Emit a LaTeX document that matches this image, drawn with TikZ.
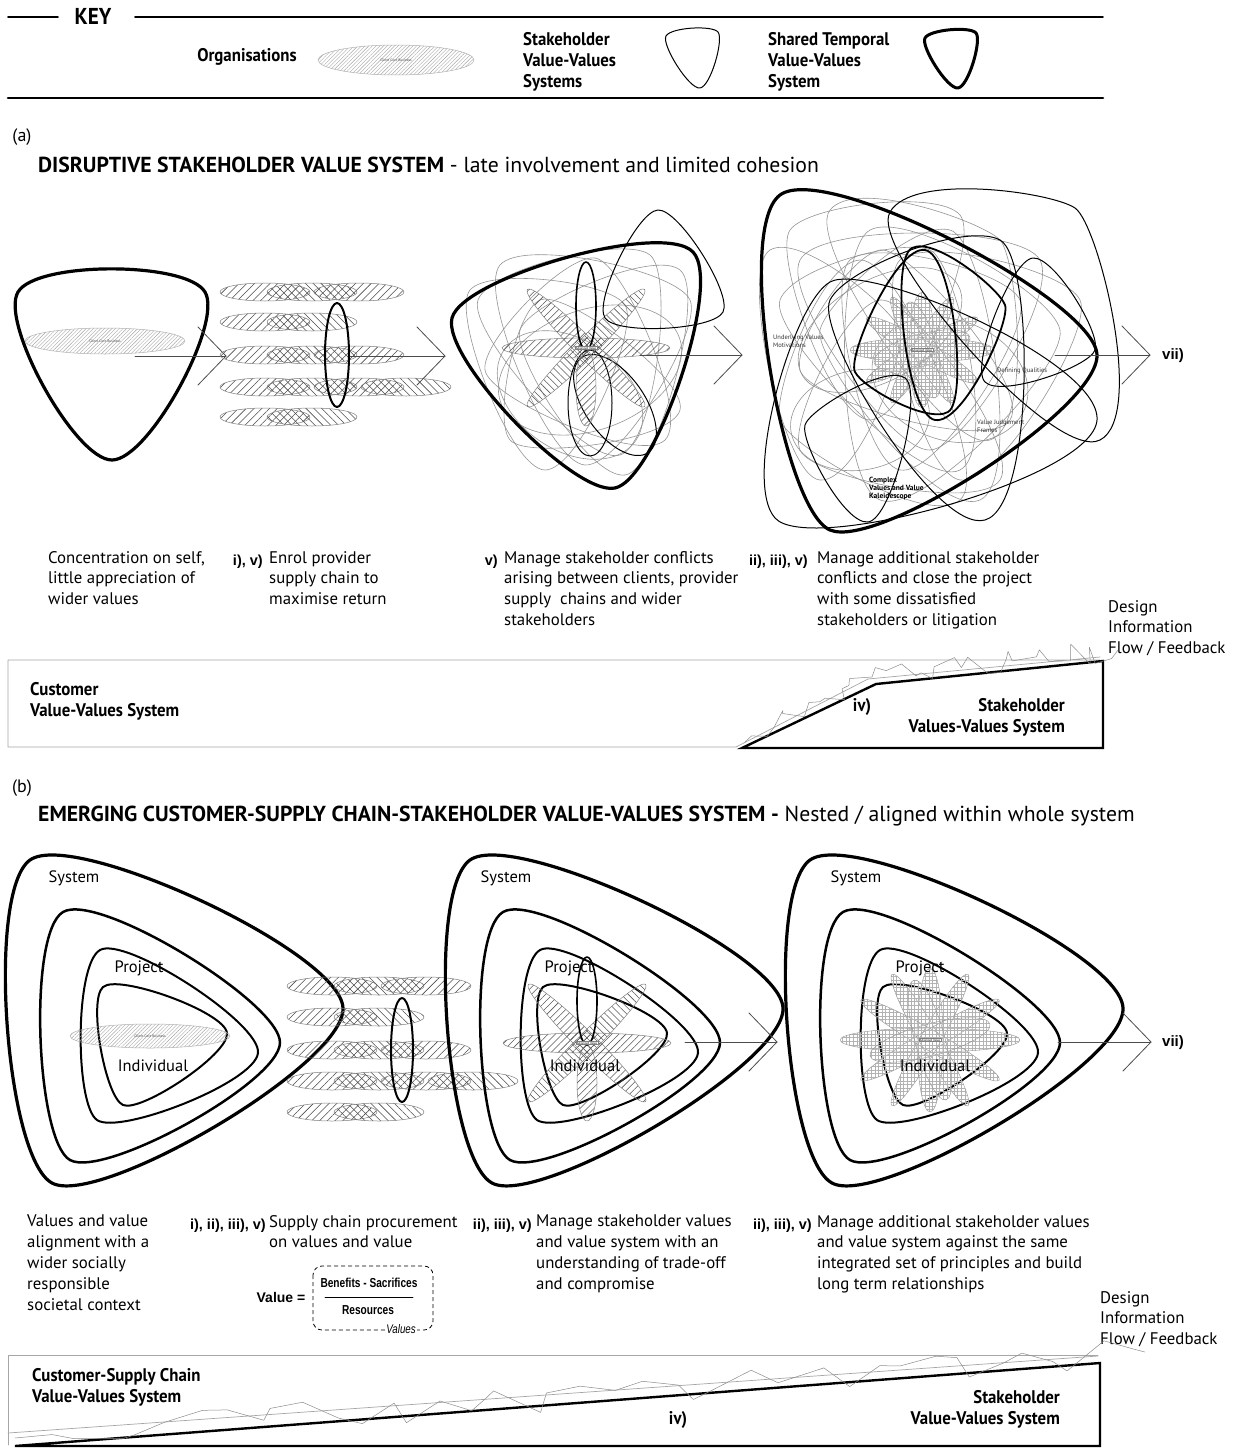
\documentclass[tikz,border=0pt]{standalone}
\usepackage{fontspec}
\setmainfont{PT Sans}
\newfontfamily\cond[FakeStretch=0.92]{PT Sans}
\newfontfamily\arl{Liberation Sans}
\newfontfamily\arln[FakeStretch=0.78]{Liberation Sans}
\usetikzlibrary{calc,patterns.meta,decorations.pathmorphing}

\tikzset{
 body/.style={font=\fontsize{16.8}{20.8}\selectfont, align=left, anchor=north west, inner sep=0pt},
 tagl/.style={font=\arl\bfseries\fontsize{14.5}{20.8}\selectfont, anchor=north east, inner sep=0pt},
 condlbl/.style={font=\cond\bfseries\fontsize{18.3}{21}\selectfont, align=left, anchor=north west, inner sep=0pt},
 heavy/.style={line width=3.2pt},
 mediumb/.style={line width=2.5pt},
 innerb/.style={line width=2pt},
 thinb/.style={line width=1pt},
 greyl/.style={draw=black!42, line width=0.6pt},
 core/.style={draw=black!30, line width=0.5pt, pattern={Lines[angle=45,distance=2.6pt,line width=0.4pt]}, pattern color=black!35},
 tinyt/.style={font=\fontsize{3.6}{4}\selectfont, text=black!70, inner sep=0pt},
 smallt/.style={font=\fontsize{6.5}{7.5}\selectfont, align=left, anchor=north west, inner sep=0pt, text=black!80},
 arrowl/.style={draw=black!70, line width=0.8pt},
 band/.style={draw=black!35, line width=0.7pt},
 petal/.style={draw=black!50, line width=0.5pt},
 zig/.style={draw=black!45, line width=0.5pt, decorate, decoration={random steps, segment length=10pt, amplitude=11pt}},
 sysl/.style={font=\fontsize{16.5}{17}\selectfont, inner sep=0pt},
 titlef/.style={anchor=west, inner sep=0pt, font=\fontsize{21.7}{23}\selectfont},
}

% rounded-triangle (guitar pick) through three apex points, clockwise on screen
\newcommand\pick[5][0.3]{%
 \coordinate (pA) at (#3); \coordinate (pB) at (#4); \coordinate (pC) at (#5);
 \coordinate (pG) at (barycentric cs:pA=1,pB=1,pC=1);
 \draw[#2] (pA) .. controls ($(pA)!#1!90:(pG)$) and ($(pB)!#1!-90:(pG)$) .. (pB)
   .. controls ($(pB)!#1!90:(pG)$) and ($(pC)!#1!-90:(pG)$) .. (pC)
   .. controls ($(pC)!#1!90:(pG)$) and ($(pA)!#1!-90:(pG)$) .. (pA) -- cycle;}

% row of hatched organisation ellipses
\newcommand\orgrow[3]{%
 \foreach \i in {1,...,#3}{%
   \pgfmathsetmacro\cx{#1+45+47*(\i-1)}%
   \pgfmathsetmacro\ang{mod(\i,2)==1 ? 45 : -45}%
   \path[draw=black!50, line width=0.5pt, pattern={Lines[angle=\ang,distance=5.5pt,line width=0.55pt]}, pattern color=black!70] (\cx,#2) ellipse [x radius=45, y radius=9];
 }}

% chevron arrow
\newcommand\chev[2]{%
 \draw[arrowl] (#1) -- (#2);
 \draw[arrowl] ($(#2)+(-28,-29)$) -- (#2) -- ($(#2)+(-28,29)$);}

% flower of hatched organisations
\newcommand\flower[2]{%
 \path[petal, pattern={Lines[angle=45,distance=5pt,line width=0.55pt]}, pattern color=black!65] (#1,#2) ellipse [x radius=84, y radius=10];
 \path[petal, pattern={Lines[angle=-45,distance=5pt,line width=0.55pt]}, pattern color=black!65, rotate around={45:(#1,#2)}] (#1,#2) ellipse [x radius=83, y radius=10];
 \path[petal, pattern={Lines[angle=45,distance=5pt,line width=0.55pt]}, pattern color=black!65, rotate around={-45:(#1,#2)}] (#1,#2) ellipse [x radius=83, y radius=10];
 \path[petal, pattern={Lines[angle=45,distance=5pt,line width=0.55pt]}, pattern color=black!65] (#1,#2+40) ellipse [x radius=10, y radius=38];
 \draw[line width=1.6pt] (#1,#2-42) ellipse [x radius=10, y radius=44];
 \node[draw=black!50, fill=white, inner sep=0.6pt, font=\fontsize{3}{3}\selectfont] at (#1,#2) {Advanced Value};}

% flower of grid-hatched organisations
\newcommand\gridflower[4]{%
 \foreach \a/\rx/\ry in {0/90/12, 30/80/10, 60/76/10, 90/72/13, 120/76/10, 150/80/10, 15/62/16, 105/62/15}{%
   \path[draw=black!40, line width=0.45pt, pattern={Hatch[angle=0,distance=3.6pt,line width=0.3pt]}, pattern color=black!30, rotate around={\a:(#1,#2)}] (#1,#2) ellipse [x radius=\rx*#3, y radius=\ry*#4];}
 \node[draw=black!50, fill=white, inner sep=0.6pt, font=\fontsize{3}{3}\selectfont] at (#1,#2) {Advanced Value};}

% nested system picks
\newcommand\nested{%
 \pick[0.28]{heavy}{30,860}{343,1008}{52,1183}
 \pick[0.28]{mediumb}{63,912}{280,1043}{70,1160}
 \pick[0.28]{innerb}{100,950}{258,1053}{97,1120}
 \pick[0.28]{innerb}{103,987}{227,1033}{123,1105}}

\begin{document}
\begin{tikzpicture}[x=1pt,y=-1pt, line join=round, line cap=round]
\path[use as bounding box, fill=white] (0,0) rectangle (1233,1448);

% ---------------- KEY ----------------
\draw[line width=1.6pt] (8,17) -- (58,17);
\node[font=\cond\bfseries\fontsize{23}{23}\selectfont, inner sep=0pt] (key) at (93,16) {KEY};
\draw[line width=1.6pt] (135,17) -- (1103,17);
\draw[line width=2.6pt] (8,98) -- (1103,98);
\node[condlbl, anchor=center] (korg) at (247,57) {Organisations};
\path[core] (396,60) ellipse [x radius=78, y radius=15];
\node[tinyt] (kcore) at (396,60) {Client Core Business};
\node[condlbl] (kstk) at (523,32) {Stakeholder\\Value-Values\\Systems};
\pick[0.3]{line width=1pt}{666,36}{718,32}{700,88}
\node[condlbl] (kshr) at (768,32) {Shared Temporal\\Value-Values\\System};
\pick[0.3]{line width=3pt}{925,38}{976,33}{958,88}

% ---------------- (a) ----------------
\node[font=\fontsize{18}{18}\selectfont] (la) at (22,137) {(a)};
\node[titlef] (ta) at (38,165) {\textbf{DISRUPTIVE STAKEHOLDER VALUE SYSTEM} - late involvement and limited cohesion};

% a1
\pick[0.33]{heavy}{18,292}{205,292}{112,460}
\path[core] (105,341) ellipse [x radius=80, y radius=13];
\node[tinyt] (a1core) at (105,341) {Client Core Business};
\coordinate (a1s) at (135,356); \coordinate (a1e) at (226,356);
\chev{a1s}{a1e}

% a2
\orgrow{220}{292}{3}
\orgrow{220}{322}{2}
\orgrow{220}{355}{3}
\orgrow{220}{387}{4}
\orgrow{220}{417}{2}
\draw[line width=2pt] (337,355) ellipse [x radius=12, y radius=52];
\coordinate (a2s) at (350,356); \coordinate (a2e) at (445,356);
\chev{a2s}{a2e}

% a3
\pick[0.3]{greyl}{478,300}{650,255}{620,455}
\pick[0.3]{greyl}{500,265}{690,300}{585,465}
\pick[0.3]{greyl}{485,370}{595,258}{665,440}
\pick[0.3]{greyl}{520,330}{680,270}{625,475}
\pick[0.3]{greyl}{470,290}{625,305}{545,470}
\pick[0.3]{greyl}{510,440}{540,300}{680,410}
\draw[greyl, rotate around={20:(590,370)}] (590,370) ellipse [x radius=95, y radius=60];
\draw[greyl, rotate around={-35:(570,395)}] (570,395) ellipse [x radius=80, y radius=55];
\draw[thinb] (590,403) ellipse [x radius=22, y radius=53];
\draw[thinb, rotate around={-55:(615,405)}] (615,405) ellipse [x radius=58, y radius=30];
\flower{586}{348}
\pick[0.3]{heavy}{452,318}{693,252}{615,488}
\pick[0.3]{thinb}{658,210}{723,312}{605,318}
\coordinate (a3s) at (640,355); \coordinate (a3e) at (742,355);
\chev{a3s}{a3e}

% a4
\pick[0.3]{greyl}{790,230}{960,215}{870,420}
\pick[0.3]{greyl}{850,260}{1020,300}{900,470}
\pick[0.3]{greyl}{780,300}{930,250}{960,470}
\pick[0.3]{greyl}{800,370}{880,250}{1010,420}
\pick[0.3]{greyl}{830,210}{1000,240}{990,440}
\pick[0.3]{greyl}{780,420}{860,260}{960,500}
\pick[0.3]{greyl}{870,230}{1060,330}{880,500}
\pick[0.3]{greyl}{800,260}{1040,260}{930,450}
\pick[0.3]{greyl}{820,330}{950,230}{980,500}
\pick[0.3]{greyl}{770,250}{900,330}{820,480}
\pick[0.3]{greyl}{900,260}{1080,300}{960,480}
\pick[0.3]{greyl}{800,450}{880,300}{1000,480}
\draw[greyl, rotate around={30:(880,330)}] (880,330) ellipse [x radius=90, y radius=50];
\draw[greyl, rotate around={-20:(950,380)}] (950,380) ellipse [x radius=80, y radius=60];
\draw[greyl, rotate around={10:(860,420)}] (860,420) ellipse [x radius=70, y radius=50];
\gridflower{922}{350}{0.8}{1}
\pick[0.3]{thinb}{890,212}{1075,208}{1100,440}
\pick[0.3]{thinb}{775,518}{830,282}{1097,420}
\pick[0.3]{thinb}{805,425}{905,378}{868,522}
\pick[0.3]{thinb}{1033,258}{1095,350}{985,382}
\pick[0.3]{thinb}{830,300}{1000,240}{985,520}
\pick[0.3]{line width=1.8pt}{855,372}{925,250}{948,412}
\pick[0.3]{line width=1.8pt}{912,248}{1005,305}{935,420}
\pick[0.28]{heavy}{780,195}{1097,355}{830,530}
\node[smallt] (uvm) at (773,335) {Underlying Values\\Motivations};
\node[smallt, anchor=west] (dq) at (997,371) {Defining Qualities};
\node[smallt] (vjf) at (977,420) {Value Judgement\\Frames};
\node[smallt, font=\bfseries\fontsize{7.5}{8.2}\selectfont, text=black] (cvk) at (869,477) {Complex\\Values and Value\\Kaleidescope};
\coordinate (a4s) at (1055,355); \coordinate (a4e) at (1150,355);
\chev{a4s}{a4e}
\node[font=\arl\bfseries\fontsize{15}{15}\selectfont, anchor=west, inner sep=0pt] (a7) at (1162,356) {vii)};

% a texts
\node[body] (ad1) at (48,551) {Concentration on self,\\little appreciation of\\wider values};
\node[tagl] (at2) at (263,555) {i), v)};
\node[body] (ad2) at (269,551) {Enrol provider\\supply chain to\\maximise return};
\node[tagl] (at3) at (498,555) {v)};
\node[body] (ad3) at (504,551) {Manage stakeholder conflicts\\arising between clients, provider\\supply\ \ chains and wider\\stakeholders};
\node[tagl] (at4) at (808,555) {ii), iii), v)};
\node[body] (ad4) at (817,551) {Manage additional stakeholder\\conflicts and close the project\\with some dissatisfied\\stakeholders or litigation};
\node[body] (adf) at (1108,600) {Design\\Information\\Flow / Feedback};

% a band
\draw[band] (1100,660) -- (8,660) -- (8,747) -- (736,747) -- (868,679) -- (1100,657);
\draw[line width=2.4pt, line join=miter] (742,748) -- (876,684) -- (1103,661) -- (1103,748) -- cycle;
\pgfmathsetseed{7}
\draw[zig] (745,742) -- (872,677) -- (1118,650);
\node[condlbl] (acv) at (30,682) {Customer\\Value-Values System};
\node[condlbl, anchor=north] (aiv) at (862,698) {iv)};
\node[condlbl, align=right, anchor=north east] (asv) at (1065,698) {Stakeholder\\Values-Values System};

% ---------------- (b) ----------------
\node[font=\fontsize{18}{18}\selectfont] (lb) at (22,788) {(b)};
\node[titlef] (tb) at (38,816) {\textbf{EMERGING CUSTOMER-SUPPLY CHAIN-STAKEHOLDER VALUE-VALUES SYSTEM -} Nested / aligned within whole system};

% b1
\nested
\path[core] (150,1036) ellipse [x radius=80, y radius=12];
\node[tinyt] (b1core) at (150,1036) {Client Core Business};
\node[sysl] (b1s) at (74,878) {System};
\node[sysl] (b1p) at (139,968) {Project};
\node[sysl] (b1i) at (153,1066) {Individual};

% supply chain rows
\orgrow{287}{986}{3}
\orgrow{287}{1017}{2}
\orgrow{287}{1050}{3}
\orgrow{287}{1081}{4}
\orgrow{287}{1112}{2}
\draw[line width=2pt] (402,1050) ellipse [x radius=11, y radius=52];

% b2
\begin{scope}[xshift=440pt]
\nested
\end{scope}
\flower{587}{1043}
\node[sysl] (b2s) at (506,878) {System};
\node[sysl] (b2p) at (569,968) {Project};
\node[sysl] (b2i) at (585,1066) {Individual};
\coordinate (b2as) at (685,1042); \coordinate (b2ae) at (777,1042);
\chev{b2as}{b2ae}

% b3
\begin{scope}[xshift=780pt]
\nested
\end{scope}
\gridflower{930}{1040}{1}{1}
\node[sysl] (b3s) at (856,878) {System};
\node[sysl] (b3p) at (920,968) {Project};
\node[sysl] (b3i) at (935,1066) {Individual};
\coordinate (b3as) at (1058,1042); \coordinate (b3ae) at (1151,1042);
\chev{b3as}{b3ae}
\node[font=\arl\bfseries\fontsize{15}{15}\selectfont, anchor=west, inner sep=0pt] (b7) at (1162,1043) {vii)};

% b texts
\node[body] (bd1) at (27,1215) {Values and value\\alignment with a\\wider socially\\responsible\\societal context};
\node[tagl] (bt2) at (266,1219) {i), ii), iii), v)};
\node[body] (bd2) at (269,1215) {Supply chain procurement\\on values and value};
\node[tagl] (bt3) at (532,1219) {ii), iii), v)};
\node[body] (bd3) at (536,1215) {Manage stakeholder values\\and value system with an\\understanding of trade-off\\and compromise};
\node[tagl] (bt4) at (812,1219) {ii), iii), v)};
\node[body] (bd4) at (817,1215) {Manage additional stakeholder values\\and value system against the same\\integrated set of principles and build\\long term relationships};
\node[body] (bdf) at (1100,1291) {Design\\Information\\Flow / Feedback};

% value formula
\node[font=\arl\bfseries\fontsize{14}{14}\selectfont, inner sep=0pt] (fv) at (281,1297) {Value =};
\draw[line width=0.8pt, dash pattern=on 4pt off 3pt, rounded corners=9pt, line cap=butt] (313,1266) rectangle (433,1330);
\node[font=\arln\bfseries\fontsize{13}{13}\selectfont, inner sep=0pt] (fb) at (369,1283) {Benefits - Sacrifices};
\draw[line width=0.8pt] (325,1297) -- (413,1297);
\node[font=\arln\bfseries\fontsize{13}{13}\selectfont, inner sep=0pt] (fr) at (368,1310) {Resources};
\node[font=\arln\itshape\fontsize{12.5}{12.5}\selectfont, fill=white, inner sep=1.5pt] (fval) at (401,1329) {Values};

% b band
\draw[band] (1098,1355) -- (8,1355) -- (8,1445);
\draw[band] (8,1433) -- (1098,1356);
\draw[line width=2.4pt, line join=miter] (15,1446) -- (1100,1363) -- (1100,1446) -- cycle;
\pgfmathsetseed{11}
\draw[zig, decoration={random steps, segment length=26pt, amplitude=17pt}] (15,1438) -- (1145,1352);
\node[condlbl] (bcv) at (32,1368) {Customer-Supply Chain\\Value-Values System};
\node[condlbl, anchor=north] (biv) at (678,1411) {iv)};
\node[condlbl, align=right, anchor=north east] (bsv) at (1060,1390) {Stakeholder\\Value-Values System};

\end{tikzpicture}
\end{document}
